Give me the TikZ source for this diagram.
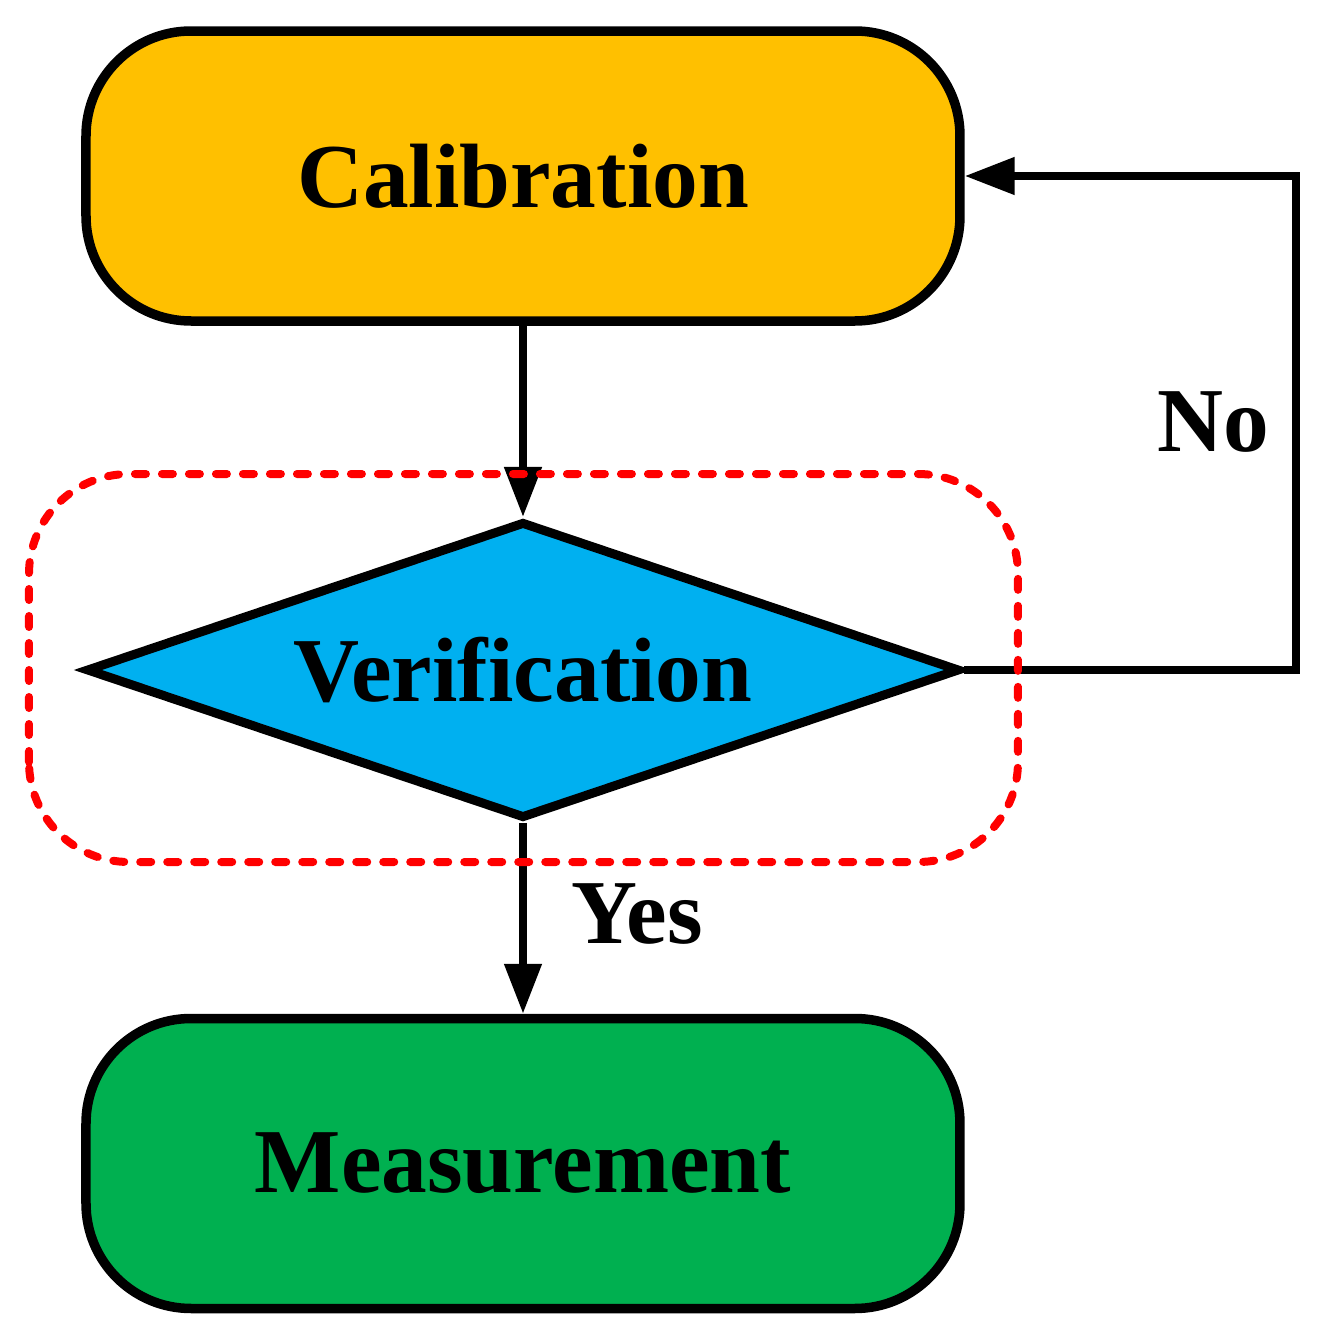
\documentclass[tikz,border=0pt]{standalone}
\usepackage{fontspec}
\setmainfont{Liberation Serif}
\usepackage{tikz}
\usetikzlibrary{arrows.meta}
\usetikzlibrary{shapes.geometric}
\definecolor{calibcol}{HTML}{FFC000}
\definecolor{verifcol}{HTML}{00B0F0}
\definecolor{meascol}{HTML}{00B050}
\definecolor{redline}{HTML}{FF0000}

\begin{document}
\begin{tikzpicture}[
    every node/.style={font=\bfseries\fontsize{26}{30}\selectfont},
    terminal/.style={draw, line width=0.095cm, rounded corners=1.05cm,
        minimum width=8.74cm, minimum height=2.9cm, inner sep=0pt},
    decision/.style={draw, diamond, line width=0.09cm, aspect=2.95,
        minimum width=8.74cm, minimum height=2.97cm, inner sep=0pt},
    flow/.style={line width=0.08cm, -{Triangle[length=0.5cm, width=0.36cm]}}
]
\useasboundingbox (0,0) rectangle (13.2,13.35);

\node[terminal, fill=calibcol] (calib) at (5.23, 11.59) {Calibration};
\node[decision, fill=verifcol] (verif) at (5.23, 6.65) {Verification};
\node[terminal, fill=meascol] (meas) at (5.23, 1.715) {Measurement};

\coordinate (turn) at (12.96, 6.65);

\draw[flow] (calib) -- (verif);
\draw[flow] (verif) -- (meas);
\draw[flow, line join=miter] (verif.east) -- (turn) |- (calib.east);

\node (no) at (12.13, 9.13) {No};
\node[anchor=base] (yes) at (6.37, 3.92) {Yes};

% dashed frame round the check
\draw[redline, line width=0.08cm, line cap=round, dash pattern=on 0.11cm off 0.16cm,
    rounded corners=1cm] (0.29, 4.73) rectangle (10.18, 8.61);

\end{tikzpicture}
\end{document}
